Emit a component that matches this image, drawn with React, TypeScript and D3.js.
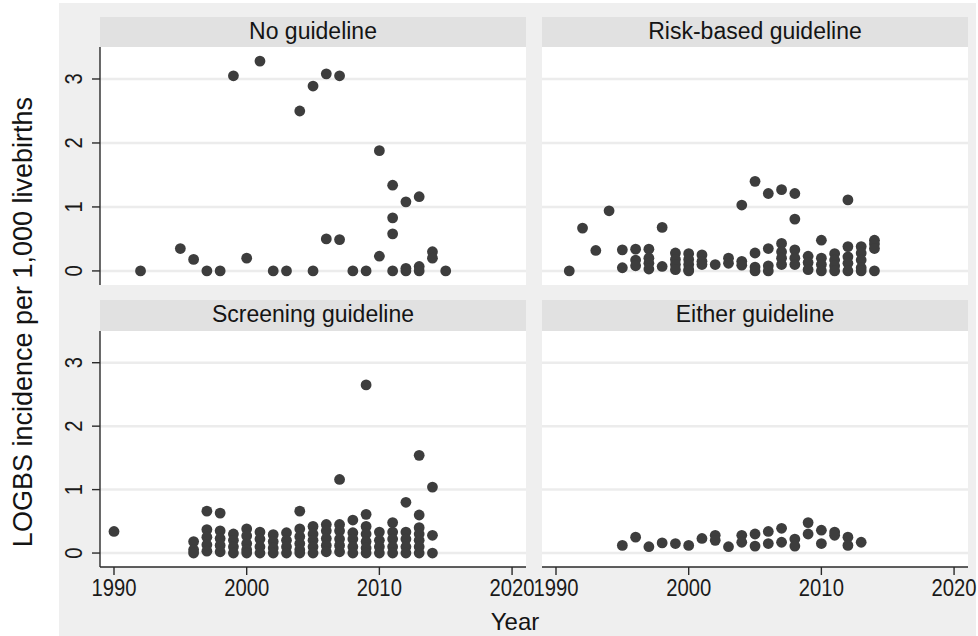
import React from 'react';
import * as d3 from 'd3';

const panelTitles = ['No guideline', 'Risk-based guideline', 'Screening guideline', 'Either guideline'];
const xTicks = [1990, 2000, 2010, 2020];
const yTicks = [0, 1, 2, 3];
const xTitle = 'Year';
const yTitle = 'LOGBS incidence per 1,000 livebirths';

const noGuidelineYears = [1992, 1995, 1996, 1997, 1998, 1999, 2000, 2001, 2002, 2003, 2004, 2005, 2005, 2006, 2006, 2007, 2007, 2008, 2009, 2010, 2010, 2011, 2011, 2011, 2011, 2012, 2012, 2012, 2013, 2013, 2013, 2014, 2014, 2015];
const noGuidelineValues = [0, 0.35, 0.18, 0, 0, 3.05, 0.2, 3.28, 0, 0, 2.5, 2.89, 0, 3.08, 0.5, 3.05, 0.49, 0, 0, 1.88, 0.23, 1.34, 0.83, 0.58, 0, 1.08, 0.04, 0, 1.16, 0.07, 0, 0.3, 0.2, 0];

const riskYears = [1991, 1992, 1993, 1994, 1995, 1995, 1996, 1996, 1996, 1997, 1997, 1997, 1997, 1998, 1998,
  1999, 1999, 1999, 1999, 2000, 2000, 2000, 2000, 2000, 2001, 2001, 2001, 2002, 2003, 2003,
  2004, 2004, 2004, 2005, 2005, 2005, 2005, 2006, 2006, 2006, 2006, 2007, 2007, 2007, 2007, 2007,
  2008, 2008, 2008, 2008, 2008, 2009, 2009, 2009, 2010, 2010, 2010, 2010, 2011, 2011, 2011, 2011,
  2012, 2012, 2012, 2012, 2012, 2013, 2013, 2013, 2013, 2013, 2014, 2014, 2014, 2014];
const riskValues = [0, 0.67, 0.32, 0.94, 0.33, 0.05, 0.34, 0.17, 0.08, 0.34, 0.2, 0.12, 0.03, 0.68, 0.07,
  0.28, 0.18, 0.1, 0.02, 0.27, 0.18, 0.1, 0.02, 0, 0.25, 0.15, 0.1, 0.1, 0.2, 0.12,
  1.03, 0.15, 0.09, 1.4, 0.28, 0.06, 0, 1.21, 0.35, 0.08, 0, 1.27, 0.43, 0.3, 0.2, 0.1,
  1.21, 0.81, 0.33, 0.2, 0.1, 0.23, 0.13, 0.02, 0.48, 0.2, 0.1, 0, 0.27, 0.17, 0.08, 0,
  1.11, 0.38, 0.22, 0.12, 0, 0.38, 0.28, 0.17, 0.05, 0, 0.48, 0.42, 0.35, 0];

const screeningYears = [1990, 1996, 1996, 1996, 1997, 1997, 1997, 1997, 1997, 1998, 1998, 1998, 1998, 1998,
  1999, 1999, 1999, 1999, 2000, 2000, 2000, 2000, 2000, 2001, 2001, 2001, 2001, 2002, 2002, 2002, 2002,
  2003, 2003, 2003, 2003, 2004, 2004, 2004, 2004, 2004, 2004, 2005, 2005, 2005, 2005, 2005,
  2006, 2006, 2006, 2006, 2006, 2007, 2007, 2007, 2007, 2007, 2007, 2008, 2008, 2008, 2008, 2008,
  2009, 2009, 2009, 2009, 2009, 2009, 2009, 2010, 2010, 2010, 2010, 2011, 2011, 2011, 2011, 2011,
  2012, 2012, 2012, 2012, 2012, 2013, 2013, 2013, 2013, 2013, 2013, 2013, 2014, 2014, 2014];
const screeningValues = [0.34, 0.18, 0.05, 0, 0.66, 0.37, 0.25, 0.13, 0.03, 0.63, 0.35, 0.23, 0.12, 0.02,
  0.3, 0.2, 0.1, 0, 0.38, 0.27, 0.15, 0.05, 0, 0.33, 0.22, 0.1, 0, 0.29, 0.18, 0.08, 0,
  0.32, 0.2, 0.1, 0, 0.66, 0.38, 0.26, 0.15, 0.05, 0, 0.42, 0.3, 0.2, 0.1, 0,
  0.45, 0.35, 0.23, 0.12, 0.02, 1.16, 0.45, 0.35, 0.22, 0.12, 0.02, 0.52, 0.32, 0.22, 0.1, 0,
  2.65, 0.61, 0.42, 0.3, 0.18, 0.08, 0, 0.33, 0.2, 0.1, 0, 0.48, 0.33, 0.22, 0.1, 0,
  0.8, 0.33, 0.22, 0.1, 0, 1.54, 0.6, 0.4, 0.3, 0.2, 0.1, 0, 1.04, 0.28, 0];

const eitherYears = [1995, 1996, 1997, 1998, 1999, 2000, 2001, 2002, 2002, 2003, 2004, 2004, 2005, 2005, 2006, 2006, 2007, 2007, 2008, 2008, 2009, 2009, 2010, 2010, 2011, 2011, 2012, 2012, 2013];
const eitherValues = [0.12, 0.25, 0.1, 0.16, 0.15, 0.12, 0.23, 0.28, 0.2, 0.1, 0.28, 0.17, 0.3, 0.11, 0.34, 0.15, 0.39, 0.17, 0.22, 0.11, 0.48, 0.3, 0.36, 0.15, 0.33, 0.28, 0.25, 0.12, 0.17];

const panelYears = [noGuidelineYears, riskYears, screeningYears, eitherYears];
const panelValues = [noGuidelineValues, riskValues, screeningValues, eitherValues];

const W = 978;
const H = 636;
const cols = [{ x0: 100, x1: 526 }, { x0: 542, x1: 968 }];
const rows = [{ s0: 17, top: 47, bottom: 285 }, { s0: 300, top: 331, bottom: 567 }];
const FONT = "'Liberation Sans', Arial, Helvetica, sans-serif";
const DOT = '#3d3d3d';
const AXIS = '#2a2a2a';

export default function App() {
  return (
    <svg width={W} height={H} style={{ position: 'fixed', left: 0, top: 0, display: 'block', background: '#ffffff' }} fontFamily={FONT}>
      <rect x={59} y={3} width={917} height={633} fill="#efefef" />
      {panelTitles.map((title, i) => {
        const c = cols[i % 2];
        const r = rows[Math.floor(i / 2)];
        const x = d3.scaleLinear().domain([1988.945, 2021.05]).range([c.x0, c.x1]);
        const y = d3.scaleLinear().domain([-0.22, 3.5]).range([r.bottom, r.top]);
        const years = panelYears[i];
        const vals = panelValues[i];
        const isLeft = i % 2 === 0;
        const isBottom = i >= 2;
        return (
          <g key={title}>
            <rect x={c.x0} y={r.s0} width={c.x1 - c.x0} height={r.top - r.s0} fill="#e1e1e1" />
            <text x={(c.x0 + c.x1) / 2} y={r.s0 + 22} textAnchor="middle" fontSize={23} fill="#141414">{title}</text>
            <rect x={c.x0} y={r.top} width={c.x1 - c.x0} height={r.bottom - r.top} fill="#ffffff" />
            {yTicks.map((t) => (
              <line key={t} x1={c.x0} x2={c.x1} y1={y(t)} y2={y(t)} stroke="#ececec" strokeWidth={2.5} />
            ))}
            {years.map((yr, k) => (
              <circle key={k} cx={x(yr)} cy={y(vals[k])} r={5.4} fill={DOT} />
            ))}
            {isLeft && (
              <g>
                <line x1={c.x0} x2={c.x0} y1={r.top} y2={r.bottom} stroke={AXIS} strokeWidth={1.4} />
                {yTicks.map((t) => (
                  <g key={t}>
                    <line x1={c.x0 - 8} x2={c.x0} y1={y(t)} y2={y(t)} stroke={AXIS} strokeWidth={1.4} />
                    <text transform={`translate(82,${y(t)}) rotate(-90) scale(0.88,1)`} textAnchor="middle" fontSize={23} fill="#1a1a1a">{t}</text>
                  </g>
                ))}
              </g>
            )}
            {isBottom && (
              <g>
                <line x1={c.x0} x2={c.x1} y1={r.bottom} y2={r.bottom} stroke={AXIS} strokeWidth={1.4} />
                {xTicks.map((t) => (
                  <g key={t}>
                    <line x1={x(t)} x2={x(t)} y1={r.bottom} y2={r.bottom + 8} stroke={AXIS} strokeWidth={1.4} />
                    <text transform={`translate(${x(t)},596) scale(0.88,1)`} textAnchor="middle" fontSize={23} fill="#1a1a1a">{t}</text>
                  </g>
                ))}
              </g>
            )}
          </g>
        );
      })}
      <text x={515} y={630} textAnchor="middle" fontSize={24} fill="#141414">{xTitle}</text>
      <text transform="translate(32,322) rotate(-90)" textAnchor="middle" fontSize={27} fill="#141414">{yTitle}</text>
    </svg>
  );
}
